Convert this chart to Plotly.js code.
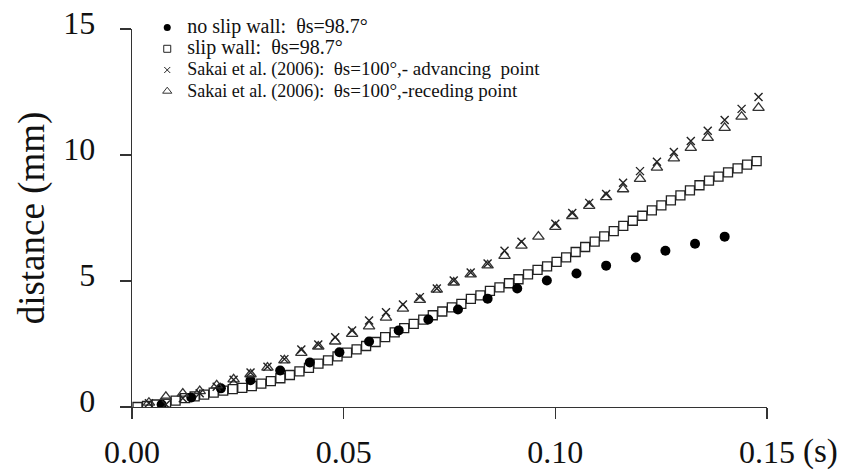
<!DOCTYPE html>
<html>
<head>
<meta charset="utf-8">
<script src="https://cdn.plot.ly/plotly-3.0.1.min.js"></script>
<style>html,body{margin:0;padding:0;background:#fff;}#chart{width:849px;height:470px;}</style>
</head>
<body>
<div id="chart"></div>
<script>
// ---- data ----
const noSlipTime = [0.007,0.014,0.021,0.028,0.035,0.042,0.049,0.056,0.063,0.070,0.077,0.084,0.091,0.098,0.105,0.112,0.119,0.126,0.133,0.140];
const noSlipDist = [0.10,0.38,0.74,1.06,1.45,1.77,2.17,2.60,3.04,3.47,3.87,4.30,4.70,5.02,5.30,5.61,5.93,6.20,6.48,6.76];

const slipTime = [0.0013,0.00355,0.0058,0.00805,0.0103,0.01255,0.0148,0.01705,0.0193,0.02155,0.0238,0.02605,0.0283,0.03055,0.0328,0.03505,0.0373,0.03955,0.0418,0.04405,0.0463,0.04855,0.0508,0.05305,0.0553,0.05755,0.0598,0.06205,0.0643,0.06655,0.0688,0.07105,0.0733,0.07555,0.0778,0.08005,0.0823,0.08455,0.0868,0.08905,0.0913,0.09355,0.0958,0.09805,0.1003,0.10255,0.1048,0.10705,0.1093,0.11155,0.1138,0.11605,0.1183,0.12055,0.1228,0.12505,0.1273,0.12955,0.1318,0.13405,0.1363,0.13855,0.1408,0.14305,0.1453,0.14755];
const slipDist = [0.00,0.04,0.10,0.17,0.25,0.35,0.42,0.49,0.57,0.65,0.71,0.76,0.83,0.93,1.03,1.14,1.27,1.41,1.55,1.72,1.85,2.01,2.16,2.29,2.42,2.58,2.77,2.96,3.13,3.30,3.47,3.64,3.79,3.95,4.09,4.29,4.43,4.61,4.75,4.91,5.07,5.26,5.44,5.58,5.76,5.94,6.15,6.35,6.56,6.77,6.98,7.19,7.39,7.59,7.80,8.00,8.20,8.40,8.60,8.80,8.98,9.14,9.31,9.47,9.62,9.76];

const sakaiTime = [0.004,0.008,0.012,0.016,0.020,0.024,0.028,0.032,0.036,0.040,0.044,0.048,0.052,0.056,0.060,0.064,0.068,0.072,0.076,0.080,0.084,0.088,0.092,0.096,0.100,0.104,0.108,0.112,0.116,0.120,0.124,0.128,0.132,0.136,0.140,0.144,0.148];
const sakaiAdvancing = [0.15,0.10,0.35,0.55,0.80,1.08,1.37,1.60,1.90,2.28,2.48,2.77,3.04,3.43,3.76,4.07,4.36,4.70,5.02,5.34,5.69,6.20,6.56,null,7.27,7.70,8.10,8.45,8.90,9.36,9.73,10.12,10.56,10.96,11.39,11.83,12.30];
const sakaiReceding = [0.17,0.40,0.53,0.63,0.86,1.10,1.30,1.56,1.85,2.15,2.40,2.60,2.90,3.20,3.55,3.90,4.25,4.66,4.94,5.26,5.62,6.00,6.40,6.76,7.15,7.58,7.98,8.33,8.64,9.05,9.50,9.87,10.28,10.68,11.08,11.52,11.87];

const xTickVals = [0, 0.05, 0.10, 0.15];
const xTickText = ['0.00', '0.05', '0.10', '0.15'];
const yTickVals = [0, 5, 10, 15];
const yTickText = ['0', '5', '10', '15'];

const SERIF = 'Liberation Serif';
const legendNames = [
  '<span style="font-family:' + SERIF + ';font-size:20px">no slip wall:\u00a0 \u03b8s=98.7\u00b0</span>',
  '<span style="font-family:' + SERIF + ';font-size:20px">slip wall:\u00a0 \u03b8s=98.7\u00b0</span>',
  '<span style="font-family:' + SERIF + ';font-size:18px">Sakai et al. (2006):</span><span style="font-family:' + SERIF + ';font-size:19px">\u00a0 \u03b8s=100\u00b0,- advancing\u00a0 point</span>',
  '<span style="font-family:' + SERIF + ';font-size:18px">Sakai et al. (2006):</span><span style="font-family:' + SERIF + ';font-size:19px">\u00a0 \u03b8s=100\u00b0,-receding point</span>'
];

// ---- styles ----
const FONT = 'Liberation Serif, Times New Roman, serif';
const mkCircle = {symbol: 'circle', color: '#000', size: 10, line: {width: 0}};
const mkSquare = {symbol: 'square-open', color: '#222', size: 9, line: {width: 1.3, color: '#222'}};
const mkX = {symbol: 'x-thin-open', color: '#222', size: 8, line: {width: 1.4, color: '#222'}};
const mkTri = {symbol: 'triangle-up-open', color: '#333', size: 10, line: {width: 1.3, color: '#333'}};

const traces = [
  {x: slipTime, y: slipDist, type: 'scatter', mode: 'markers', marker: mkSquare, showlegend: false, hoverinfo: 'skip'},
  {x: noSlipTime, y: noSlipDist, type: 'scatter', mode: 'markers', marker: mkCircle, showlegend: false, hoverinfo: 'skip'},
  {x: sakaiTime, y: sakaiReceding, type: 'scatter', mode: 'markers', marker: mkTri, showlegend: false, hoverinfo: 'skip'},
  {x: sakaiTime, y: sakaiAdvancing, type: 'scatter', mode: 'markers', marker: mkX, showlegend: false, hoverinfo: 'skip'},
  // legend-only entries (smaller symbols as in the reference legend)
  {x: [null], y: [null], type: 'scatter', mode: 'markers', name: legendNames[0], marker: Object.assign({}, mkCircle, {size: 7})},
  {x: [null], y: [null], type: 'scatter', mode: 'markers', name: legendNames[1], marker: Object.assign({}, mkSquare, {size: 7, line: {width: 1, color: '#222'}})},
  {x: [null], y: [null], type: 'scatter', mode: 'markers', name: legendNames[2], marker: Object.assign({}, mkX, {size: 6, line: {width: 1, color: '#222'}})},
  {x: [null], y: [null], type: 'scatter', mode: 'markers', name: legendNames[3], marker: Object.assign({}, mkTri, {size: 8, line: {width: 1, color: '#333'}})}
];

const axisCommon = {
  showgrid: false, zeroline: false, showline: true, linecolor: '#333', linewidth: 1.3,
  ticks: 'outside', ticklen: 11, tickwidth: 1.3, tickcolor: '#333',
  tickfont: {family: FONT, size: 32, color: '#111'}, fixedrange: true
};

const layout = {
  width: 849, height: 470,
  margin: {l: 132, r: 82, t: 26, b: 63},
  paper_bgcolor: '#fff', plot_bgcolor: '#fff',
  font: {family: FONT, color: '#111'},
  showlegend: true,
  legend: {
    x: 0.024, y: 1.045, xanchor: 'left', yanchor: 'top',
    bgcolor: 'rgba(0,0,0,0)', borderwidth: 0,
    font: {family: FONT, size: 14, color: '#111'},
    traceorder: 'normal', itemclick: false, itemdoubleclick: false
  },
  xaxis: Object.assign({}, axisCommon, {
    range: [0, 0.15], tickmode: 'array', tickvals: xTickVals, ticktext: xTickText,
    ticklabelstandoff: 5
  }),
  yaxis: Object.assign({}, axisCommon, {
    range: [0, 15], tickmode: 'array', tickvals: yTickVals, ticktext: yTickText,
    ticklabelstandoff: 18, ticklabelshift: -6,
    title: {text: 'distance (mm)', font: {family: FONT, size: 37, color: '#111'}, standoff: 7}
  }),
  annotations: [{
    text: '(s)', xref: 'paper', yref: 'paper', x: 1.085, y: -0.118,
    xanchor: 'center', yanchor: 'middle', showarrow: false,
    font: {family: FONT, size: 33, color: '#111'}
  }]
};

Plotly.newPlot('chart', traces, layout, {staticPlot: true, displayModeBar: false});
</script>
</body>
</html>
